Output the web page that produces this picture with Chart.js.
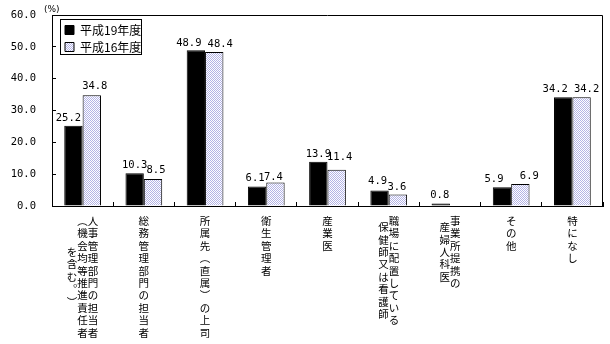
<!DOCTYPE html>
<html>
<head>
<meta charset="utf-8">
<script src="https://cdn.jsdelivr.net/npm/chart.js@4/dist/chart.umd.min.js"></script>
<style>
  html, body { margin: 0; padding: 0; background: #fff; }
  #wrap { width: 610px; height: 344px; }
</style>
</head>
<body>
<div id="wrap"><canvas id="chart" width="610" height="344"></canvas></div>
<script>
// Categories: each one is written as vertical columns, read from right to left
const categories = [
  ['人事管理部門の担当者', '（機会均等推進責任者', 'を含む。）'],
  ['総務管理部門の担当者'],
  ['所属先（直属）の上司'],
  ['衛生管理者'],
  ['産業医'],
  ['職場に配置している', '保健師又は看護師'],
  ['事業所提携の', '産婦人科医'],
  ['その他'],
  ['特になし']
];
const seriesNames = ['平成19年度', '平成16年度'];
const valuesH19 = [25.2, 10.3, 48.9, 6.1, 13.9, 4.9, 0.8, 5.9, 34.2];
const valuesH16 = [34.8, 8.5, 48.4, 7.4, 11.4, 3.6, null, 6.9, 34.2];
const yTicks = [0, 10, 20, 30, 40, 50, 60];
const unitLabel = '(%)';

// Vertical layout of the column labels: start row of each column, in half rows
const columnStarts = [[0, 0, 5], [0], [0], [0], [0], [0, 1], [0, 1], [0], [0]];
// Nudges for value labels that would otherwise collide [dx, dy] per series
const labelNudgeH19 = [[-5, 0], [0, 0], [-7, 1], [-2, -1], [0, 0], [-2, -1], [-1, 0], [-8, 0], [-8, 0]];
const labelNudgeH16 = [[3, -1], [3, -1], [6, 0], [-2, 3], [3, -5], [-1, 0], [0, 0], [9, 0], [5, 0]];

const verticalForms = { '（': '︵', '）': '︶', '。': '︒', '、': '︑' };
function verticalLines(cols, starts) {
  const ordered = cols.map((t, i) => ({
    chars: Array.from(t).map(ch => verticalForms[ch] || ch),
    start: starts[i] || 0
  })).reverse();
  let rows = 0;
  ordered.forEach(c => { rows = Math.max(rows, c.start + 2 * (c.chars.length - 1) + 1); });
  const lines = [];
  for (let r = 0; r < rows; r++) {
    let s = '';
    ordered.forEach(c => {
      const k = r - c.start;
      s += (k >= 0 && k % 2 === 0 && k / 2 < c.chars.length) ? c.chars[k / 2] : '\u3000';
    });
    lines.push(s);
  }
  return lines;
}
const labelLines = categories.map((c, i) => verticalLines(c, columnStarts[i]));

const canvas = document.getElementById('chart');
const ctx = canvas.getContext('2d');

function dotPattern() {
  const c = document.createElement('canvas');
  c.width = 2; c.height = 2;
  const g = c.getContext('2d');
  g.fillStyle = '#ffffff';
  g.fillRect(0, 0, 2, 2);
  g.fillStyle = '#b4b4e6';
  g.fillRect(0, 0, 1, 1);
  g.fillRect(1, 1, 1, 1);
  return ctx.createPattern(c, 'repeat');
}

const LEGEND_PAD = 5;
const LEGEND_FONT = 12;

const framePlugin = {
  id: 'frame',
  afterLayout(chart) {
    // legend sits a little inside the plot area
    const lg = chart.legend;
    const a = chart.chartArea;
    const w = lg.right - lg.left, h = lg.bottom - lg.top;
    lg.left = a.left + 8; lg.right = lg.left + w;
    lg.top = a.top + 4; lg.bottom = lg.top + h;
  },
  afterDraw(chart) {
    const { ctx, chartArea: a } = chart;
    ctx.save();
    ctx.strokeStyle = '#000';
    ctx.lineWidth = 1;
    ctx.beginPath();
    ctx.moveTo(Math.round(a.left) + 0.5, Math.round(a.top) + 0.5);
    ctx.lineTo(Math.round(a.right) - 0.5, Math.round(a.top) + 0.5);
    ctx.lineTo(Math.round(a.right) - 0.5, Math.round(a.bottom) + 0.5);
    ctx.stroke();

    // legend box
    const lg = chart.legend;
    const hb = lg.legendHitBoxes;
    const w = Math.max(...hb.map(h => h.width));
    const h = hb.length * (LEGEND_FONT + LEGEND_PAD) + 1;
    ctx.strokeRect(Math.round(lg.left) + 0.5, Math.round(lg.top) + 0.5, Math.round(LEGEND_PAD + w), h);

    // unit label
    ctx.fillStyle = '#000';
    ctx.font = '9px "DejaVu Sans"';
    ctx.textAlign = 'left';
    ctx.textBaseline = 'middle';
    ctx.fillText(unitLabel, a.left - 8, a.top - 5);
    ctx.restore();
  },
  afterDatasetsDraw(chart) {
    const { ctx } = chart;
    const nudges = [labelNudgeH19, labelNudgeH16];
    ctx.save();
    ctx.fillStyle = '#000';
    ctx.font = '10.5px "DejaVu Sans Mono"';
    ctx.textAlign = 'center';
    ctx.textBaseline = 'alphabetic';
    chart.data.datasets.forEach((ds, di) => {
      const meta = chart.getDatasetMeta(di);
      meta.data.forEach((bar, i) => {
        const v = ds.data[i];
        if (v === null || v === undefined) return;
        const [dx, dy] = nudges[di][i];
        ctx.fillText(v.toFixed(1), bar.x + dx, bar.y - 5 + dy);
      });
    });
    ctx.restore();
  }
};

new Chart(ctx, {
  type: 'bar',
  data: {
    labels: categories.map(c => c.join('')),
    datasets: [
      { label: seriesNames[0], data: valuesH19, backgroundColor: '#000', borderColor: '#000', borderWidth: 1 },
      { label: seriesNames[1], data: valuesH16, backgroundColor: dotPattern(), borderColor: '#000', borderWidth: 1 }
    ]
  },
  options: {
    responsive: false,
    animation: false,
    devicePixelRatio: 1,
    layout: { padding: { top: 15, right: 7, left: 0, bottom: 0 } },
    datasets: { bar: { categoryPercentage: 0.6, barPercentage: 1.0 } },
    plugins: {
      legend: {
        position: 'chartArea',
        fullSize: false,
        align: 'start',
        labels: {
          boxWidth: 9, boxHeight: 9, padding: LEGEND_PAD, color: '#000',
          font: { family: '"Noto Sans CJK JP"', size: LEGEND_FONT }
        }
      },
      tooltip: { enabled: false }
    },
    scales: {
      x: {
        grid: { offset: true, drawOnChartArea: false, tickLength: -4, color: '#000', lineWidth: 1 },
        border: { color: '#000', width: 1 },
        ticks: {
          autoSkip: false, maxRotation: 0, minRotation: 0, padding: 16, color: '#000',
          font: { family: '"Noto Sans CJK JP"', size: 10.5, lineHeight: 6.2 / 10.5 },
          callback: (v, i) => labelLines[i]
        },
        afterFit: s => { s.height = 138; s.paddingLeft = 0; s.paddingRight = 0; }
      },
      y: {
        min: yTicks[0], max: yTicks[yTicks.length - 1],
        afterBuildTicks: s => { s.ticks = yTicks.map(v => ({ value: v })); },
        grid: { drawOnChartArea: false, tickLength: -4, color: '#000', lineWidth: 1 },
        border: { color: '#000', width: 1 },
        ticks: {
          padding: 20, color: '#000',
          font: { family: '"DejaVu Sans Mono"', size: 10.5 },
          callback: v => Number(v).toFixed(1)
        },
        afterFit: s => { s.width = 52; s.paddingTop = 0; s.paddingBottom = 0; }
      }
    }
  },
  plugins: [framePlugin]
});
</script>
</body>
</html>
